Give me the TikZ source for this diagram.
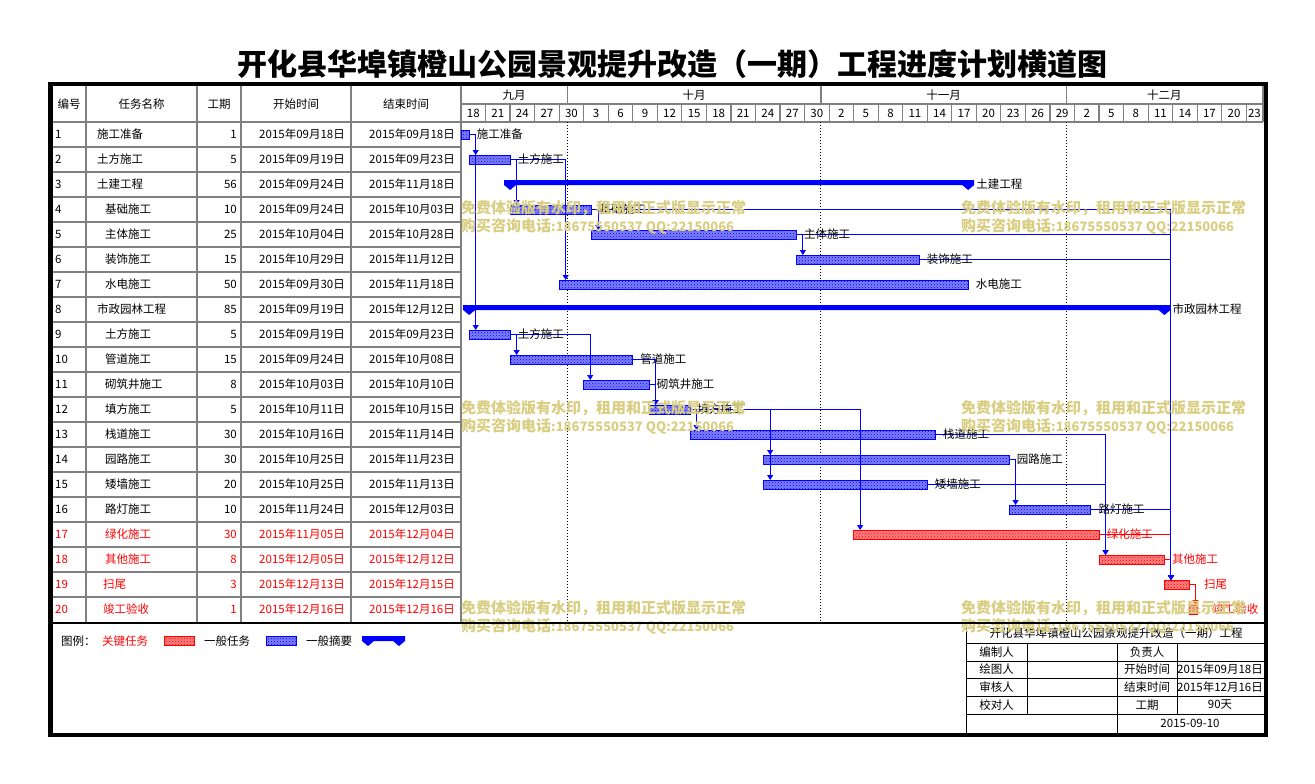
\documentclass[tikz,border=0pt]{standalone}
\usepackage{fontspec}
\setmainfont{Noto Sans CJK SC}
\usetikzlibrary{arrows.meta,patterns,positioning,calc}
\definecolor{wmk}{RGB}{216,205,128}
\definecolor{gridgray}{RGB}{128,128,128}
\newcommand{\dd}{8.18}

\begin{document}
\begin{tikzpicture}[x=1pt, y=-1pt,
    every node/.style={inner sep=1pt, font=\fontsize{11.5}{13}\selectfont},
    grid/.style={draw=gridgray, line width=1.2pt},
    bar/.style={draw=#1, line width=0.9pt, preaction={fill=#1!50}, pattern=crosshatch dots, pattern color=#1, minimum height=9pt, inner sep=0pt, outer sep=0pt},
    summary/.style={minimum height=5pt, inner sep=0pt, outer sep=0pt},
    link/.style={draw=#1, line width=1pt, -{Triangle[length=5pt,width=6pt]}},
    wm/.style={text=wmk, font=\bfseries\fontsize{15}{17}\selectfont, inner sep=0pt}]
    \useasboundingbox (0,0) rectangle (1315,784);
    \node[font=\bfseries\fontsize{30}{33}\selectfont] (title) at (672.5,64) {开化县华埠镇橙山公园景观提升改造（一期）工程进度计划横道图};

    % table grid
    \foreach \x in {86,197,241,351,461} \draw[grid] (\x,86) -- (\x,622);
    \foreach \k in {0,...,19} \draw[grid] (52,{122+25*\k}) -- (461,{122+25*\k});
    \draw[grid] (461,122) -- (1263,122);
    \draw[grid] (461,104) -- (1263,104);
    \draw[grid] (1263,86) -- (1263,122);
    \node (h1) at (69,104) {编号};
    \node (h2) at (141.5,104) {任务名称};
    \node (h3) at (219,104) {工期};
    \node (h4) at (296,104) {开始时间};
    \node (h5) at (406,104) {结束时间};

    % time scale, one day is \dd
    \foreach \t/\c [count=\i] in {九月/6.5, 十月/28.5, 十一月/59, 十二月/86}
        \node (mon\i) at ({461+\c*\dd},95) {\t};
    \foreach \m in {13,44,74} \draw[grid] ({461+\m*\dd},86) -- ({461+\m*\dd},104);
    \foreach \i in {1,...,32} \draw[grid] ({461+3*\i*\dd},104) -- ({461+3*\i*\dd},122);
    \foreach \d [count=\i from 0] in {18,21,24,27,30,3,6,9,12,15,18,21,24,27,30,2,5,8,11,14,17,20,23,26,29,2,5,8,11,14,17,20,23}
        \node (day\i) at ({461+min(3*\i+1.5,97)*\dd},113) {\d};
    \foreach \m in {13,44,74}
        \draw[line width=1pt, dash pattern=on 1pt off 2pt] ({461+\m*\dd},122) -- ({461+\m*\dd},622);

    % task table
    \foreach \r/\nm/\ix/\du/\st/\en/\c in {
        1/施工准备/96/1/09月18日/09月18日/black,
        2/土方施工/96/5/09月19日/09月23日/black,
        3/土建工程/96/56/09月24日/11月18日/black,
        4/基础施工/104/10/09月24日/10月03日/black,
        5/主体施工/104/25/10月04日/10月28日/black,
        6/装饰施工/104/15/10月29日/11月12日/black,
        7/水电施工/104/50/09月30日/11月18日/black,
        8/市政园林工程/96/85/09月19日/12月12日/black,
        9/土方施工/104/5/09月19日/09月23日/black,
        10/管道施工/104/15/09月24日/10月08日/black,
        11/砌筑井施工/104/8/10月03日/10月10日/black,
        12/填方施工/104/5/10月11日/10月15日/black,
        13/栈道施工/104/30/10月16日/11月14日/black,
        14/园路施工/104/30/10月25日/11月23日/black,
        15/矮墙施工/104/20/10月25日/11月13日/black,
        16/路灯施工/104/10/11月24日/12月03日/black,
        17/绿化施工/104/30/11月05日/12月04日/red,
        18/其他施工/104/8/12月05日/12月12日/red,
        19/扫尾/102/3/12月13日/12月15日/red,
        20/竣工验收/102/1/12月16日/12月16日/red}{
        \node[anchor=west, text=\c] (no\r) at (54,{109.5+25*\r}) {\r};
        \node[anchor=west, text=\c] (nm\r) at (\ix,{109.5+25*\r}) {\nm};
        \node[anchor=east, text=\c] (du\r) at (238,{109.5+25*\r}) {\du};
        \node[anchor=east, text=\c] (st\r) at (346,{109.5+25*\r}) {2015年\st};
        \node[anchor=east, text=\c] (en\r) at (456,{109.5+25*\r}) {2015年\en};
    }

    % bars: row/start day/days/colour
    \foreach \r/\s/\n/\c in {
        1/0/1/blue, 2/1/5/blue, 4/6/10/blue, 5/16/25/blue, 6/41/15/blue, 7/12/50/blue,
        9/1/5/blue, 10/6/15/blue, 11/15/8/blue, 12/23/5/blue, 13/28/30/blue, 14/37/30/blue,
        15/37/20/blue, 16/67/10/blue, 17/48/30/red, 18/78/8/red, 19/86/3/red, 20/89/1/red}{
        \node[bar=\c, minimum width={\n*\dd*1pt}, anchor=west] (b\r) at ({461+\s*\dd},{109.5+25*\r}) {};
    }
    \foreach \r/\s/\n in {3/6/56, 8/1/85}
        \node[summary, minimum width={\n*\dd*1pt}, anchor=west] (b\r) at ({461+\s*\dd},{107.5+25*\r}) {};
    \node[summary, minimum width=31pt, anchor=west] (lgs) at (368,638.5) {};
    \foreach \b in {b3,b8,lgs}
        \fill[blue] ([xshift=-6pt]\b.north west) -- ([xshift=6pt]\b.north east) -- ([xshift=6pt]\b.south east)
            -- ([yshift=-5pt]\b.south east) -- ([xshift=-6pt]\b.south east) -- ([xshift=6pt]\b.south west)
            -- ([yshift=-5pt]\b.south west) -- ([xshift=-6pt]\b.south west) -- cycle;

    % links, red first so the blue ones lie on top
    \foreach \p/\q/\c in {17/19/red, 18/19/red, 19/20/red,
        1/2/blue, 1/9/blue, 2/4/blue, 2/7/blue, 4/5/blue, 4/19/blue, 5/6/blue, 5/19/blue, 6/19/blue,
        9/10/blue, 9/11/blue, 10/12/blue, 11/12/blue, 12/13/blue, 12/14/blue, 12/15/blue, 12/17/blue,
        13/18/blue, 14/16/blue, 15/18/blue, 16/19/blue}
        \draw[link=\c] (b\p.east) -| ([xshift=6.5pt]b\q.north west);

    % bar labels
    \foreach \r/\t/\lc/\g in {1/施工准备/black/6.5, 2/土方施工/black/6.5, 4/基础施工/black/6.5,
        5/主体施工/black/6.5, 6/装饰施工/black/6.5, 7/水电施工/black/6.5, 9/土方施工/black/6.5,
        10/管道施工/black/6.5, 11/砌筑井施工/black/6.5, 12/填方施工/black/6.5, 13/栈道施工/black/6.5,
        14/园路施工/black/6.5, 15/矮墙施工/black/6.5, 16/路灯施工/black/6.5, 17/绿化施工/red/6.5,
        18/其他施工/red/6.5, 19/扫尾/red/14, 20/竣工验收/red/14}
        \node[anchor=west, text=\lc] (l\r) at ([xshift=\g pt]b\r.east) {\t};
    \node[anchor=west] (l3) at ([xshift=7pt,yshift=-2pt]b3.east) {土建工程};
    \node[anchor=west] (l8) at ([xshift=7pt,yshift=-2pt]b8.east) {市政园林工程};

    % legend
    \node[anchor=west] (lg) at (60,641) {图例：};
    \node[anchor=west, text=red] (lg1) at (101,641) {关键任务};
    \node[bar=red, minimum width=30pt, anchor=west] (lgb1) at (164,641) {};
    \node[anchor=west] (lg2) at (203,641) {一般任务};
    \node[bar=blue, minimum width=30pt, anchor=west] (lgb2) at (266,641) {};
    \node[anchor=west] (lg3) at (305,641) {一般摘要};

    % title block
    \draw (966,622) -- (966,733);
    \foreach \y in {643,661,678,696,714} \draw (966,\y) -- (1264,\y);
    \draw (1027,643) -- (1027,714);
    \draw (1117,643) -- (1117,733);
    \draw (1177,643) -- (1177,714);
    \node (tb0) at (1116,633) {开化县华埠镇橙山公园景观提升改造（一期）工程};
    \foreach \y/\a/\b/\c [count=\i] in {652/编制人/负责人/{}, 669.5/绘图人/开始时间/2015年09月18日,
        687/审核人/结束时间/2015年12月16日, 705/校对人/工期/90天}{
        \node (tba\i) at (996.5,\y) {\a};
        \node (tbb\i) at (1147,\y) {\b};
        \node (tbc\i) at (1220,\y) {\c};
    }
    \node (tbd) at (1190,723.5) {2015-09-10};

    % watermark
    \foreach \wx in {461,961} \foreach \wy in {208,408,608}{
        \node[wm, anchor=west] (wa\wx\wy) at (\wx,\wy) {免费体验版有水印，租用和正式版显示正常};
        \node[wm, anchor=west] (wb\wx\wy) at (\wx,{\wy+18}) {购买咨询电话{\fontsize{13}{15}\selectfont:18675550537 QQ:22150066}};
    }

    % frame
    \draw[line width=2pt] (52,622.5) -- (1264,622.5);
    \draw[line width=4.5pt] (50.5,84) rectangle (1266,735);
\end{tikzpicture}
\end{document}
